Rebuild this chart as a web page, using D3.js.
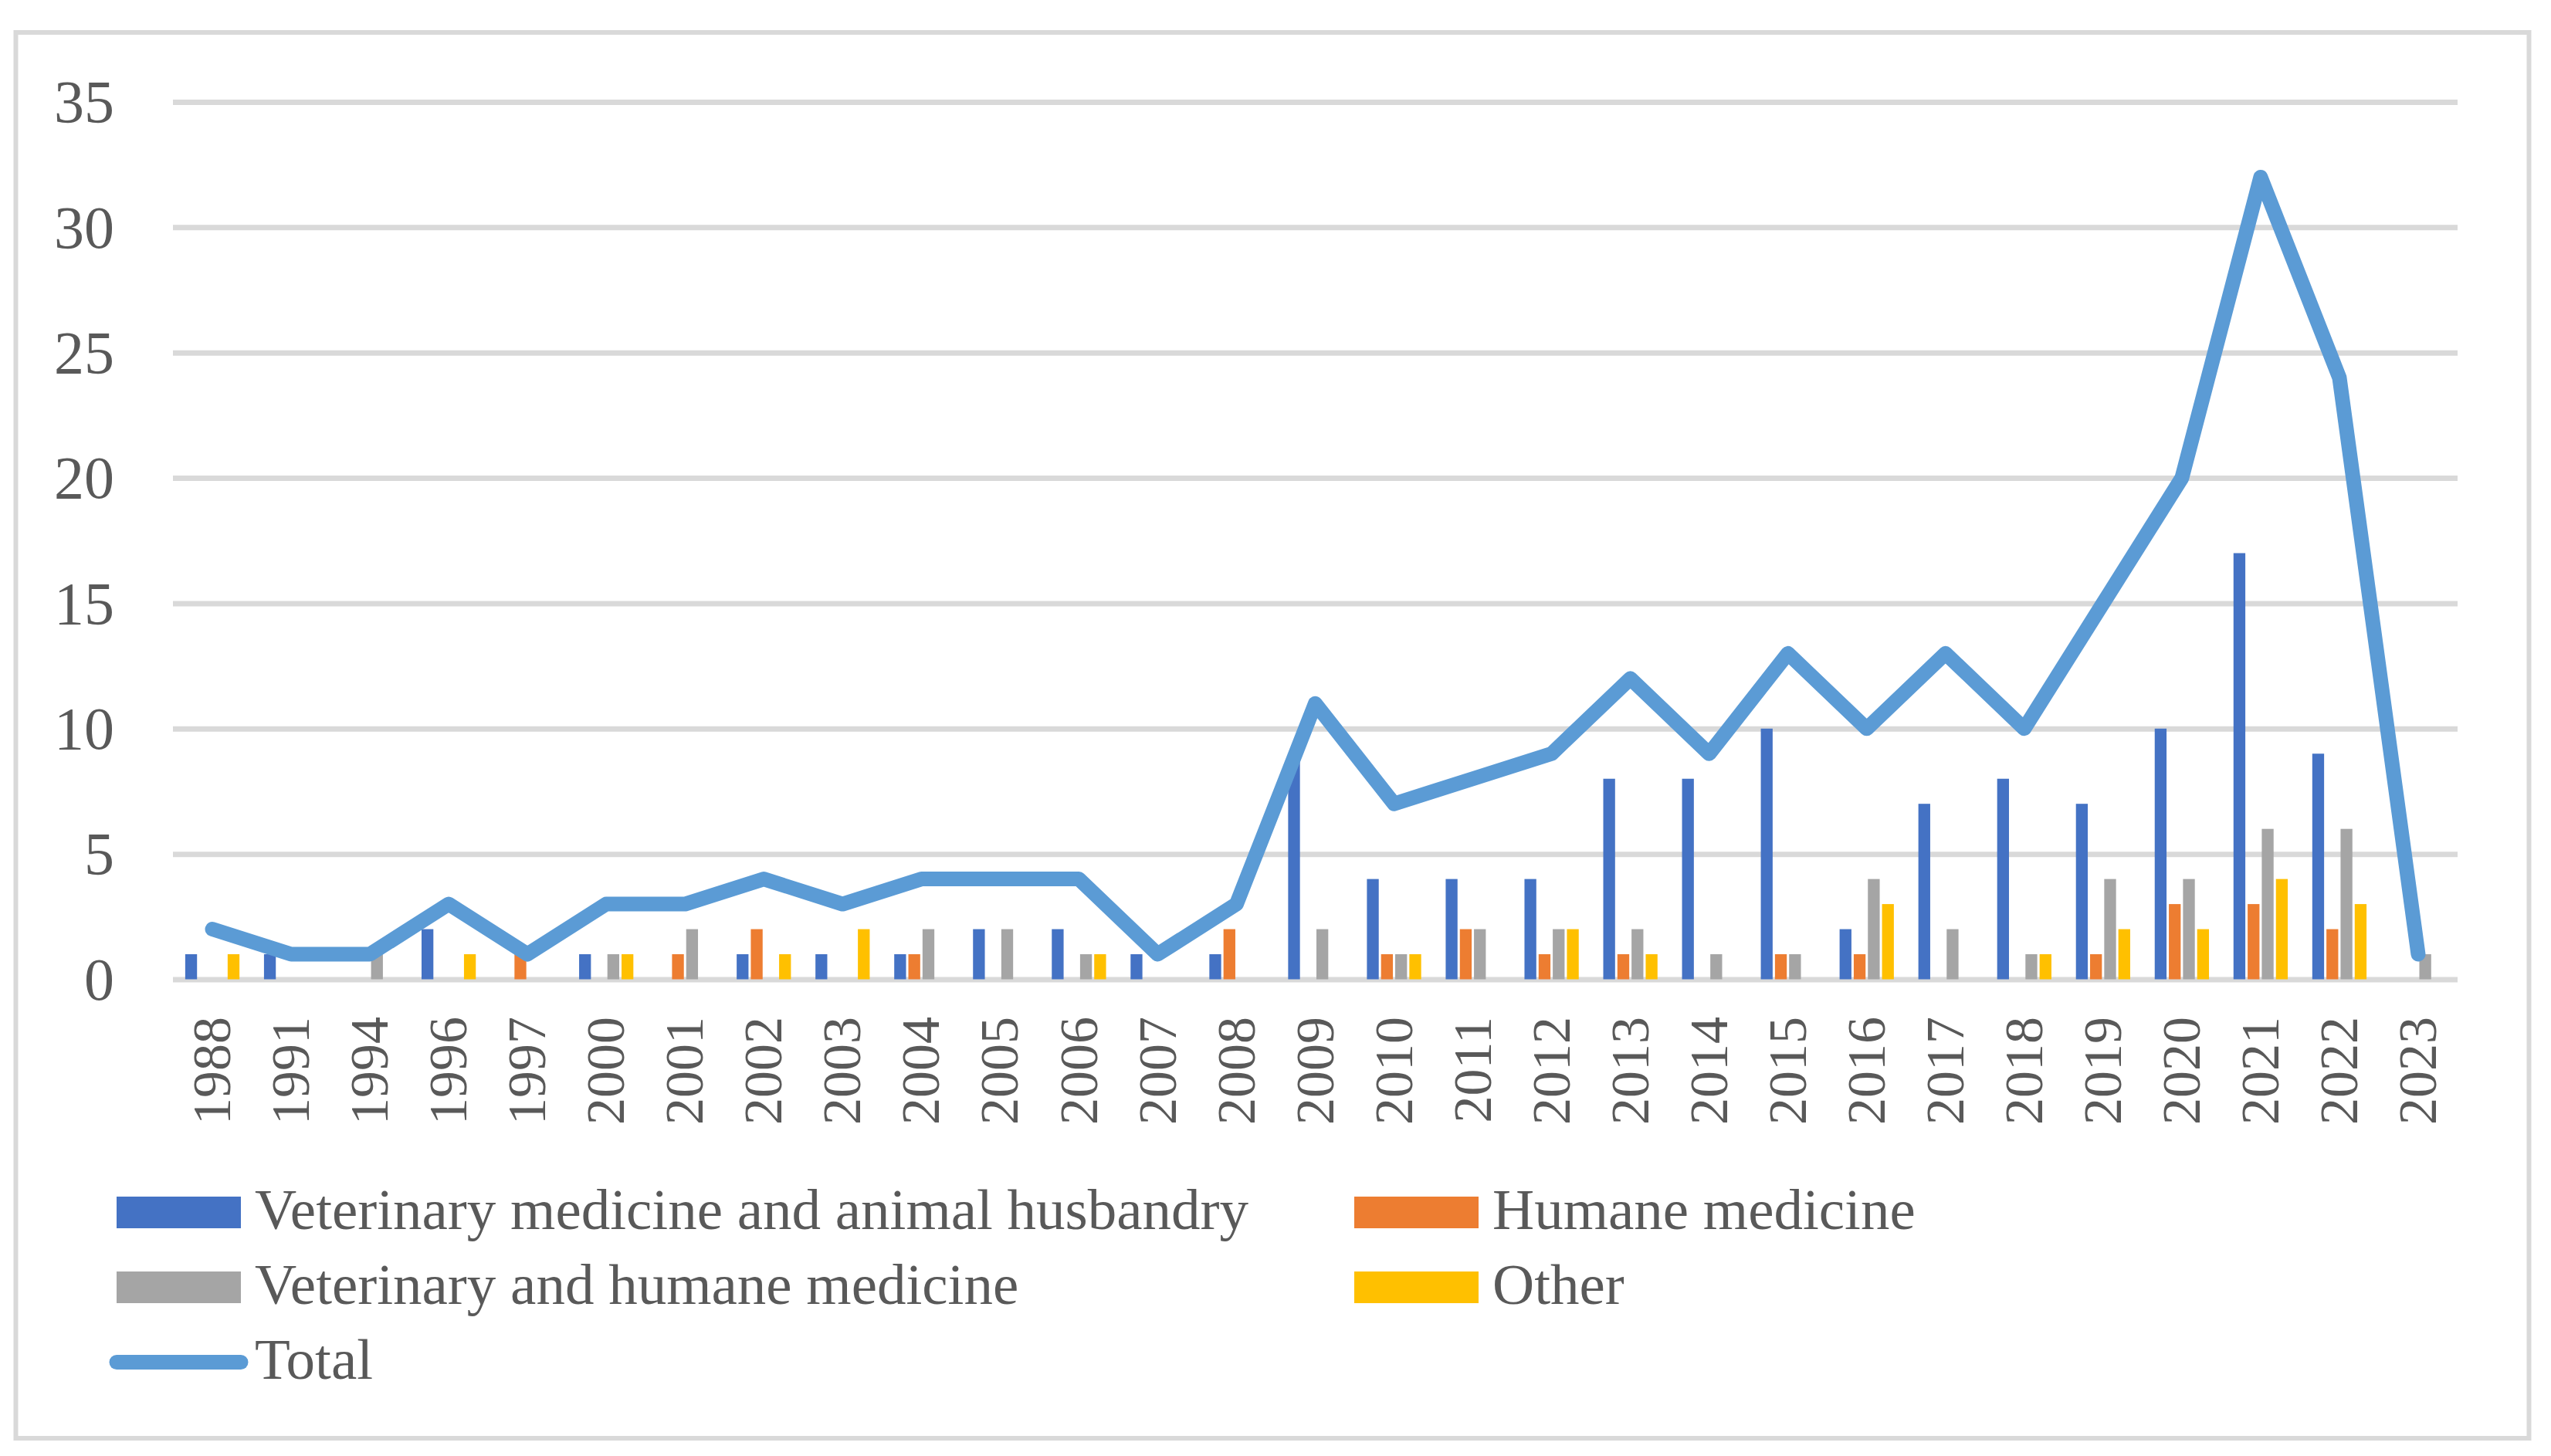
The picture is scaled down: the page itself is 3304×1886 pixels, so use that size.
<!DOCTYPE html>
<html>
<head>
<meta charset="utf-8">
<script src="https://cdn.jsdelivr.net/npm/d3@7"></script>
<style>
  html, body { margin: 0; padding: 0; background: #ffffff; }
  svg { display: block; }
</style>
</head>
<body>
<svg id="chart" width="3304" height="1886"></svg>
<script>
// ---- data ----
const years = ["1988","1991","1994","1996","1997","2000","2001","2002","2003","2004","2005","2006","2007","2008","2009","2010","2011","2012","2013","2014","2015","2016","2017","2018","2019","2020","2021","2022","2023"];
const vetAnimal  = [1,1,0,2,0,1,0,1,1,1,2,2,1,1,9,4,4,4,8,8,10,2,7,8,7,10,17,9,0];
const humane     = [0,0,0,0,1,0,1,2,0,1,0,0,0,2,0,1,2,1,1,0,1,1,0,0,1,3,3,2,0];
const vetHumane  = [0,0,1,0,0,1,2,0,0,2,2,1,0,0,2,1,2,2,2,1,1,4,2,1,4,4,6,6,1];
const other      = [1,0,0,1,0,1,0,1,2,0,0,1,0,0,0,1,0,2,1,0,0,3,0,1,2,2,4,3,0];
const total      = [2,1,1,3,1,3,3,4,3,4,4,4,1,3,11,7,8,9,12,9,13,10,13,10,15,20,32,24,1];
const yTicks     = [0,5,10,15,20,25,30,35];
const seriesNames = ["Veterinary medicine and animal husbandry","Humane medicine","Veterinary and humane medicine","Other"];
const totalName = "Total";

const barSeries = [
  {name: seriesNames[0], values: vetAnimal, color: "#4472C4"},
  {name: seriesNames[1], values: humane,    color: "#ED7D31"},
  {name: seriesNames[2], values: vetHumane, color: "#A5A5A5"},
  {name: seriesNames[3], values: other,     color: "#FFC000"}
];
const lineColor = "#5B9BD5";
const textColor = "#595959";
const gridColor = "#D9D9D9";
const font = "'Liberation Serif', 'Times New Roman', serif";

const svg = d3.select("#chart");

// outer border
svg.append("rect")
  .attr("x", 20.5).attr("y", 42).attr("width", 3255).attr("height", 1821)
  .attr("fill", "#ffffff").attr("stroke", gridColor).attr("stroke-width", 6);

const plot = {left: 224, right: 3183, top: 132, bottom: 1268.5};

const x0 = d3.scaleBand().domain(years).range([plot.left, plot.right]).padding(0);
const x1 = d3.scaleBand().domain(seriesNames).range([0, x0.bandwidth()])
  .paddingInner(0.164).paddingOuter(0.867);
const y = d3.scaleLinear().domain([0, 35]).range([plot.bottom, plot.top]);

// y axis + gridlines
const yAxis = svg.append("g")
  .attr("transform", `translate(${plot.left},0)`)
  .call(d3.axisLeft(y).tickValues(yTicks).tickSize(-(plot.right - plot.left)).tickPadding(76));
yAxis.select(".domain").remove();
yAxis.selectAll(".tick line").attr("stroke", gridColor).attr("stroke-width", 7);
yAxis.selectAll(".tick text")
  .attr("fill", textColor).style("font-family", font).style("font-size", "78px")
  .attr("dy", "0.33em");

// bars
barSeries.forEach(s => {
  svg.append("g").selectAll("rect")
    .data(years.map((yr, i) => ({yr, v: s.values[i]})).filter(d => d.v > 0))
    .join("rect")
    .attr("x", d => x0(d.yr) + x1(s.name))
    .attr("y", d => y(d.v))
    .attr("width", x1.bandwidth())
    .attr("height", d => y(0) - y(d.v))
    .attr("fill", s.color);
});

// x axis labels
const xAxis = svg.append("g")
  .attr("transform", `translate(0,${plot.bottom})`)
  .call(d3.axisBottom(x0).tickSize(0));
xAxis.select(".domain").remove();
xAxis.selectAll(".tick text")
  .attr("transform", "rotate(-90)")
  .attr("x", -48.5).attr("y", 0).attr("dy", "0.33em")
  .attr("text-anchor", "end")
  .attr("fill", textColor).style("font-family", font).style("font-size", "70px");

// total line
const line = d3.line()
  .x((d, i) => x0(years[i]) + x0.bandwidth() / 2)
  .y(d => y(d));
svg.append("path")
  .datum(total)
  .attr("d", line)
  .attr("fill", "none")
  .attr("stroke", lineColor)
  .attr("stroke-width", 19)
  .attr("stroke-linecap", "round")
  .attr("stroke-linejoin", "round");

// legend
const legendItems = [
  {name: seriesNames[0], color: barSeries[0].color, x: 151, cy: 1570.5, type: "rect"},
  {name: seriesNames[1], color: barSeries[1].color, x: 1754, cy: 1570.5, type: "rect"},
  {name: seriesNames[2], color: barSeries[2].color, x: 151, cy: 1667.5, type: "rect"},
  {name: seriesNames[3], color: barSeries[3].color, x: 1754, cy: 1667.5, type: "rect"},
  {name: totalName, color: lineColor, x: 151, cy: 1764.5, type: "line"}
];
const lg = svg.append("g");
legendItems.forEach(it => {
  if (it.type === "rect") {
    lg.append("rect").attr("x", it.x).attr("y", it.cy - 20.5)
      .attr("width", 161).attr("height", 41).attr("fill", it.color);
  } else {
    lg.append("line").attr("x1", it.x).attr("x2", it.x + 161)
      .attr("y1", it.cy).attr("y2", it.cy)
      .attr("stroke", it.color).attr("stroke-width", 19).attr("stroke-linecap", "round");
  }
  lg.append("text")
    .attr("x", it.x + 179).attr("y", it.cy + 21)
    .attr("fill", textColor).style("font-family", font).style("font-size", "75px")
    .text(it.name);
});
</script>
</body>
</html>
